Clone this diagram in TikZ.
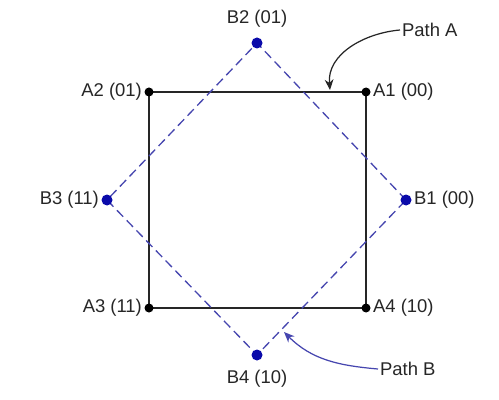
\documentclass[tikz,border=0pt]{standalone}
\usepackage{fontspec}
\setmainfont{Liberation Sans}
\usetikzlibrary{arrows.meta}
\definecolor{pathblue}{RGB}{70,70,175}
\definecolor{dotblue}{RGB}{10,10,170}
\tikzset{
  lbl/.style={inner sep=1pt, font=\fontsize{10.5}{12}\selectfont, text=black!85},
  pathb/.style={pathblue, dash pattern=on 0.18cm off 0.1cm, line width=0.75pt},
  patha/.style={black!85, line width=0.9pt},
  callout/.style={-{Stealth[length=6pt,width=5pt]}, line width=0.7pt}
}
\begin{document}
\begin{tikzpicture}[x=0.02cm,y=0.02cm]
  \useasboundingbox (0,0) rectangle (499,399);
  % points of path A (square) and path B (diamond)
  \coordinate (A1) at (366,307);
  \coordinate (A2) at (149,307);
  \coordinate (A3) at (149,91);
  \coordinate (A4) at (366,91);
  \coordinate (B1) at (406,199);
  \coordinate (B2) at (257,356);
  \coordinate (B3) at (107,199);
  \coordinate (B4) at (257,44);
  \draw[patha] (A1) -- (A2) -- (A3) -- (A4) -- cycle;
  \draw[pathb] (B1) -- (B2) -- (B3) -- (B4) -- cycle;
  \foreach \p in {A1,A2,A3,A4}
    \fill[black] (\p) circle (4.5);
  \foreach \p in {B1,B2,B3,B4}
    \fill[dotblue] (\p) circle (5.5);
  % labels
  \node[lbl, anchor=west] (lA1) at (371,307) {A1 (00)};
  \node[lbl, anchor=east] (lA2) at (144,307) {A2 (01)};
  \node[lbl, anchor=east] (lA3) at (144,91) {A3 (11)};
  \node[lbl, anchor=west] (lA4) at (371,91) {A4 (10)};
  \node[lbl, anchor=west] (lB1) at (412,199) {B1 (00)};
  \node[lbl, anchor=south] (lB2) at (257,370) {B2 (01)};
  \node[lbl, anchor=east] (lB3) at (101,199) {B3 (11)};
  \node[lbl, anchor=north] (lB4) at (257,31) {B4 (10)};
  \node[lbl, anchor=west] (pA) at (400,369) {Path A};
  \node[lbl, anchor=west] (pB) at (378,30) {Path B};
  \coordinate (tipA) at (330,309);
  \coordinate (tipB) at (284,67);
  \draw[callout, black!85] (pA.west) to[out=185,in=95] (tipA);
  \draw[callout, pathblue] (pB.west) to[out=175,in=-45] (tipB);
\end{tikzpicture}
\end{document}
